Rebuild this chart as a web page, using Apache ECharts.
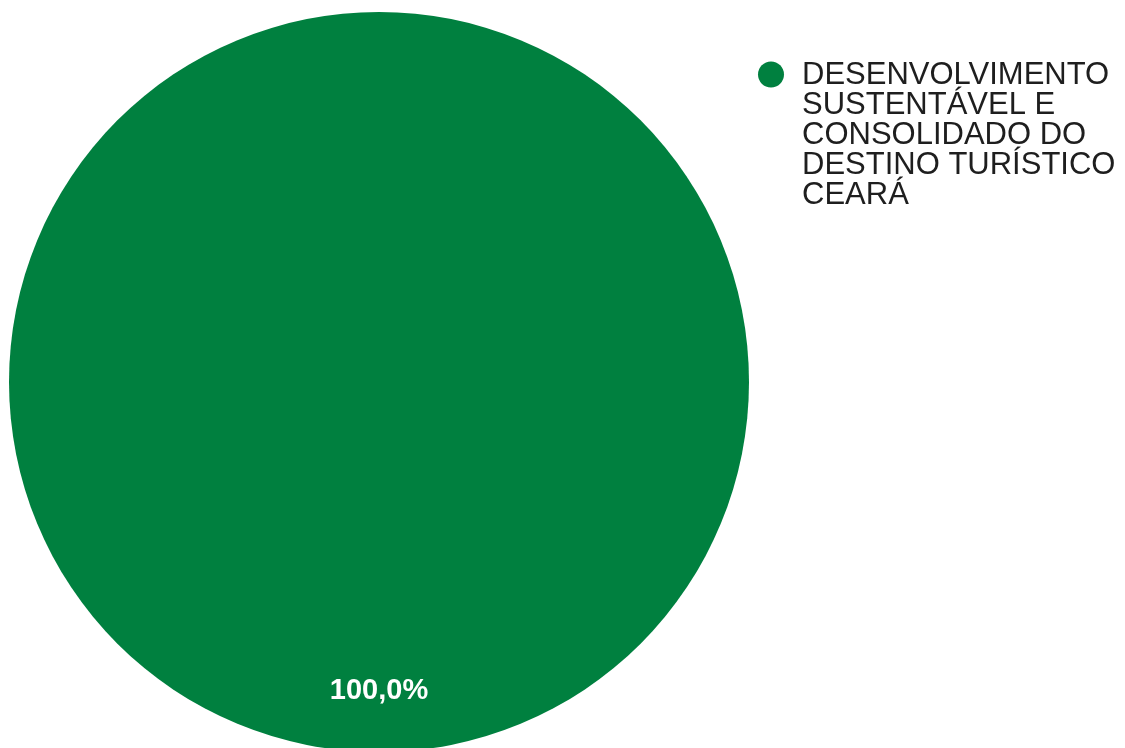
<!DOCTYPE html>
<html>
<head>
<meta charset="utf-8">
<script src="https://cdn.jsdelivr.net/npm/echarts@6/dist/echarts.min.js"></script>
<style>
html,body{margin:0;padding:0;background:#fff;}
#chart{width:1125px;height:748px;}
</style>
</head>
<body>
<div id="chart"></div>
<script>
const categories = ['DESENVOLVIMENTO SUSTENTÁVEL E CONSOLIDADO DO DESTINO TURÍSTICO CEARÁ'];
const values = [100];
const legendLines = ['DESENVOLVIMENTO', 'SUSTENTÁVEL E', 'CONSOLIDADO DO', 'DESTINO TURÍSTICO', 'CEARÁ'];
const colors = ['#00803F'];

const chart = echarts.init(document.getElementById('chart'), null, {renderer: 'canvas'});
chart.setOption({
  animation: false,
  backgroundColor: '#ffffff',
  color: colors,
  legend: {
    orient: 'vertical',
    left: 758,
    top: 60,
    padding: 0,
    // circle at the top of a tall (invisible) box so it lines up with the first text line
    icon: 'path://M0,0 M0,14 a13,13 0 1,0 26,0 a13,13 0 1,0 -26,0 M0,150',
    itemWidth: 26,
    itemHeight: 150,
    formatter: function () { return legendLines.join('\n'); },
    textStyle: {
      fontFamily: 'Liberation Sans, Arial, sans-serif',
      fontSize: 31,
      lineHeight: 30,
      color: '#1e1e1e',
      padding: [0, 0, 0, 13]
    },
    data: categories
  },
  series: [{
    type: 'pie',
    center: [379, 382],
    radius: 370,
    startAngle: 90,
    clockwise: true,
    label: {
      show: true,
      position: 'inside',
      formatter: function (p) { return p.value.toFixed(1).replace('.', ',') + '%'; },
      color: '#ffffff',
      fontWeight: 'bold',
      fontSize: 29,
      fontFamily: 'Liberation Sans, Arial, sans-serif',
      offset: [0, 121]
    },
    labelLine: {show: false},
    emphasis: {disabled: true},
    itemStyle: {borderWidth: 0},
    data: categories.map((c, i) => ({name: c, value: values[i]}))
  }]
});
</script>
</body>
</html>
